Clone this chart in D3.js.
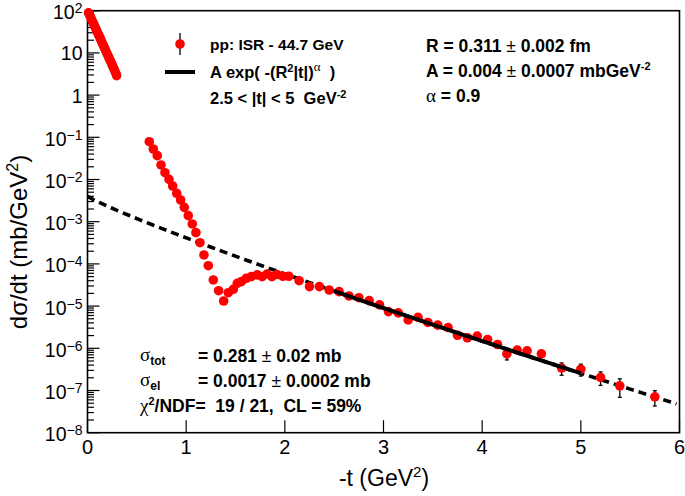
<!DOCTYPE html>
<html><head><meta charset="utf-8">
<script src="https://cdn.jsdelivr.net/npm/d3@7"></script>
<style>html,body{margin:0;padding:0;background:#fff;} svg{display:block;} text{white-space:pre;}</style>
</head><body>
<svg id="c" width="685" height="496"></svg>
<script>
// ---------------- data ----------------
const tVals = [0.01,0.02,0.03,0.04,0.05,0.06,0.07,0.08,0.09,0.10,0.11,0.12,0.13,0.14,0.15,0.16,0.17,0.18,0.19,0.20,0.21,0.22,0.23,0.24,0.25,0.26,0.27,0.28,0.29,0.295,
  0.626,0.667,0.707,0.745,0.785,0.826,0.863,0.904,0.944,0.981,1.021,1.062,1.099,1.14,1.18,1.224,1.275,1.329,1.38,
  1.427,1.478,1.518,1.56,1.61,1.66,1.72,1.77,1.82,1.87,1.92,1.98,2.04,2.145,2.25,2.35,2.45,2.55,2.65,2.75,2.855,2.96,
  3.05,3.15,3.25,3.35,3.45,3.55,3.655,3.75,3.85,3.95,4.055,4.155,4.25,4.355,4.455,4.6,4.805,5.0,5.2,5.395,5.75];
const dsdt = [89,80,71,63,56,50,44,39,35,31,27.5,24.5,21.7,19.3,17.1,15.2,13.5,12.0,10.6,9.4,8.4,7.4,6.6,5.9,5.2,4.6,4.1,3.6,3.2,2.9,
  0.0787,0.0528,0.0367,0.0221,0.0145,0.0101,0.00702,0.00471,0.00327,0.00219,0.00139,0.000883,0.00055,0.000318,0.000163,9.06e-5,4.16e-5,2.32e-5,1.32e-5,
  2.08e-5,2.51e-5,3.47e-5,3.8e-5,4.57e-5,5.0e-5,5.5e-5,5.0e-5,5.75e-5,5.0e-5,5.6e-5,5.1e-5,5.1e-5,4.0e-5,2.9e-5,2.9e-5,2.4e-5,2.2e-5,1.74e-5,1.58e-5,1.35e-5,1.07e-5,
  7.4e-6,6.9e-6,4.7e-6,5.4e-6,4.1e-6,3.55e-6,3.1e-6,2.04e-6,1.78e-6,1.95e-6,1.62e-6,1.23e-6,7.4e-7,9.1e-7,8.7e-7,7.4e-7,3.4e-7,3.2e-7,2.04e-7,1.29e-7,7.1e-8];
const dsdtErr = [0,0,0,0,0,0,0,0,0,0,0,0,0,0,0,0,0,0,0,0,0,0,0,0,0,0,0,0,0,0,
  0,0,0,0,0,0,0,0,0,0,0,0,0,0,0,0,0,0,0,
  0,0,0,0,0,0,0,0,0,0,0,0,0,0,0,0,0,0,0,0,0,0,
  0,0,0,0,0,0,0,0,0,0,0,0,2.1e-7,1.5e-7,1.4e-7,1.2e-7,1.1e-7,1.0e-7,0.72e-7,0.6e-7,0.28e-7];
// fit parameters (from the figure)
const FIT_A = 0.004;      // mb GeV^-2
const FIT_R = 0.311;      // fm
const FIT_ALPHA = 0.9;
const HBARC = 0.1973;     // GeV fm
const FIT_RANGE = [2.5, 5];
const DRAW_RANGE = [0, 6];
const xTicks = [0,1,2,3,4,5,6];
const yDecades = [2,1,0,-1,-2,-3,-4,-5,-6,-7,-8];

// ---------------- layout ----------------
const FONT = "'Liberation Sans', Arial, Helvetica, sans-serif";
const GREEK = "'Liberation Serif', 'DejaVu Serif', serif";
const L = 87.5, Rr = 679.5, T = 10.7, B = 432.7;
const svg = d3.select('#c');
const x = d3.scaleLinear().domain([0,6]).range([L,Rr]);
const y = d3.scaleLog().domain([1e-8,1e2]).range([B,T]);

// frame
svg.append('rect').attr('x',L).attr('y',T).attr('width',Rr-L).attr('height',B-T)
  .attr('fill','none').attr('stroke','#000').attr('stroke-width',1.6);

// y ticks (major + minor)
const gy = svg.append('g').attr('stroke','#000').attr('stroke-width',1.2);
yDecades.forEach(d=>{
  const v = Math.pow(10,d);
  gy.append('line').attr('x1',L).attr('x2',L+12).attr('y1',y(v)).attr('y2',y(v));
  if (d<2) for(let k=2;k<=9;k++){
    const vv = k*v; const yy=y(vv);
    gy.append('line').attr('x1',L).attr('x2',L+6.5).attr('y1',yy).attr('y2',yy);
  }
});
// x ticks
xTicks.forEach(t=>{
  svg.append('line').attr('x1',x(t)).attr('x2',x(t)).attr('y1',B).attr('y2',B-12.5)
    .attr('stroke','#000').attr('stroke-width',1.2);
  svg.append('text').attr('x',x(t)).attr('y',454).attr('text-anchor','middle')
    .attr('font-family',FONT).attr('font-size',20).text(String(t));
});
// y tick labels
yDecades.forEach(d=>{
  const yy = y(Math.pow(10,d));
  const tx = svg.append('text').attr('x',82.5).attr('text-anchor','end')
    .attr('font-family',FONT).attr('font-size',19.5);
  if (d===1){ tx.attr('y',yy+7.5).text('10'); }
  else if (d===0){ tx.attr('y',yy+7.5).text('1'); }
  else {
    tx.attr('y',yy+8.5);
    tx.append('tspan').text('10');
    tx.append('tspan').attr('dy',-6).attr('font-size',14).text(d<0?('\u2212'+(-d)):String(d));
  }
});

// axis titles
svg.append('text').attr('x',384).attr('y',486).attr('text-anchor','middle')
  .attr('font-family',FONT).attr('font-size',23)
  .call(t=>{t.append('tspan').text('-t (GeV');t.append('tspan').attr('dy',-9).attr('font-size',15).text('2');t.append('tspan').attr('dy',9).text(')');});
svg.append('text').attr('transform','translate(27,242) rotate(-90)').attr('text-anchor','middle')
  .attr('font-family',FONT).attr('font-size',24)
  .call(t=>{t.append('tspan').text('d\u03c3/dt (mb/GeV');t.append('tspan').attr('dy',-9).attr('font-size',16).text('2');t.append('tspan').attr('dy',9).text(')');});

// fit curve
const hb = FIT_R/HBARC, R2 = hb*hb;
const fitF = t => FIT_A*Math.exp(-Math.pow(R2*Math.abs(t),FIT_ALPHA));
const samp = (a,b)=>d3.range(0,101).map(i=>a+(b-a)*i/100);
const line = d3.line().x(t=>x(t)).y(t=>y(fitF(t)));
svg.append('path').attr('d',line(samp(DRAW_RANGE[0],DRAW_RANGE[1]-0.03))).attr('fill','none')
  .attr('stroke','#000').attr('stroke-width',3.6).attr('stroke-dasharray','8,5');

// data
const pts = tVals.map((t,i)=>({t, v:dsdt[i], e:dsdtErr[i]||0}));
const ge = svg.append('g').attr('stroke','#000').attr('stroke-width',1.3);
pts.filter(p=>p.e>0).forEach(p=>{
  const y1=y(p.v+p.e), y2=y(p.v-p.e), xx=x(p.t);
  ge.append('line').attr('x1',xx).attr('x2',xx).attr('y1',y1).attr('y2',y2);
  ge.append('line').attr('x1',xx-2).attr('x2',xx+2).attr('y1',y1).attr('y2',y1);
  ge.append('line').attr('x1',xx-2).attr('x2',xx+2).attr('y1',y2).attr('y2',y2);
});
svg.append('g').selectAll('circle').data(pts).join('circle')
  .attr('cx',p=>x(p.t)).attr('cy',p=>y(p.v)).attr('r',4.8).attr('fill','#ff0000');

// solid fit range
svg.append('path').attr('d',line(samp(FIT_RANGE[0],FIT_RANGE[1]))).attr('fill','none')
  .attr('stroke','#000').attr('stroke-width',4);

// rich text helper
function rich(x0,y0,segs,size){
  const tx = svg.append('text').attr('x',x0).attr('y',y0).attr('font-family',FONT)
    .attr('font-size',size).attr('font-weight','bold');
  let shift=0;
  segs.forEach(s=>{
    const ts = tx.append('tspan').text(s.t);
    const target = s.sup? -s.sup : s.sub? s.sub : 0;
    if (target-shift!==0) ts.attr('dy',target-shift);
    shift=target;
    if (s.size) ts.attr('font-size',s.size);
    if (s.greek) ts.attr('font-family',GREEK).attr('font-weight','normal');
    if (s.normal) ts.attr('font-weight','normal');
  });
  return tx;
}
// legend
svg.append('line').attr('x1',180).attr('x2',180).attr('y1',33).attr('y2',55).attr('stroke','#000').attr('stroke-width',1.3);
svg.append('circle').attr('cx',180).attr('cy',44).attr('r',4.8).attr('fill','#ff0000');
svg.append('line').attr('x1',165).attr('x2',195).attr('y1',72).attr('y2',72).attr('stroke','#000').attr('stroke-width',4);
rich(210,49.5,[{t:'pp: ISR - 44.7 GeV'}],15.5);
rich(210,78,[{t:'A exp( -(R'},{t:'2',sup:6,size:11},{t:'|t|)'},{t:'\u03b1',sup:7,size:13,greek:true},{t:'  )'}],16.5);
rich(210,103.5,[{t:'2.5 < |t| < 5  GeV'},{t:'-2',sup:6,size:11}],16.5);

// right block
rich(426,52,[{t:'R = 0.311 '},{t:'\u00b1',normal:true},{t:' 0.002 fm'}],17.5);
rich(426,77,[{t:'A = 0.004 '},{t:'\u00b1',normal:true},{t:' 0.0007 mbGeV'},{t:'-2',sup:7,size:11}],17.5);
rich(426,102,[{t:'\u03b1',greek:true,size:19},{t:' = 0.9'}],17.5);

// bottom block
rich(140,361,[{t:'\u03c3',greek:true,size:19},{t:'tot',sub:4,size:12}],17);
rich(198,362,[{t:'= 0.281 '},{t:'\u00b1',normal:true},{t:' 0.02 mb'}],17.5);
rich(140,386,[{t:'\u03c3',greek:true,size:19},{t:'el',sub:4,size:12}],17);
rich(198,387,[{t:'= 0.0017 '},{t:'\u00b1',normal:true},{t:' 0.0002 mb'}],17.5);
rich(140,412,[{t:'\u03c7',greek:true,size:19},{t:'2',sup:7,size:11},{t:'/NDF=  19 / 21,  CL = 59%'}],17.5);
</script>
</body></html>
